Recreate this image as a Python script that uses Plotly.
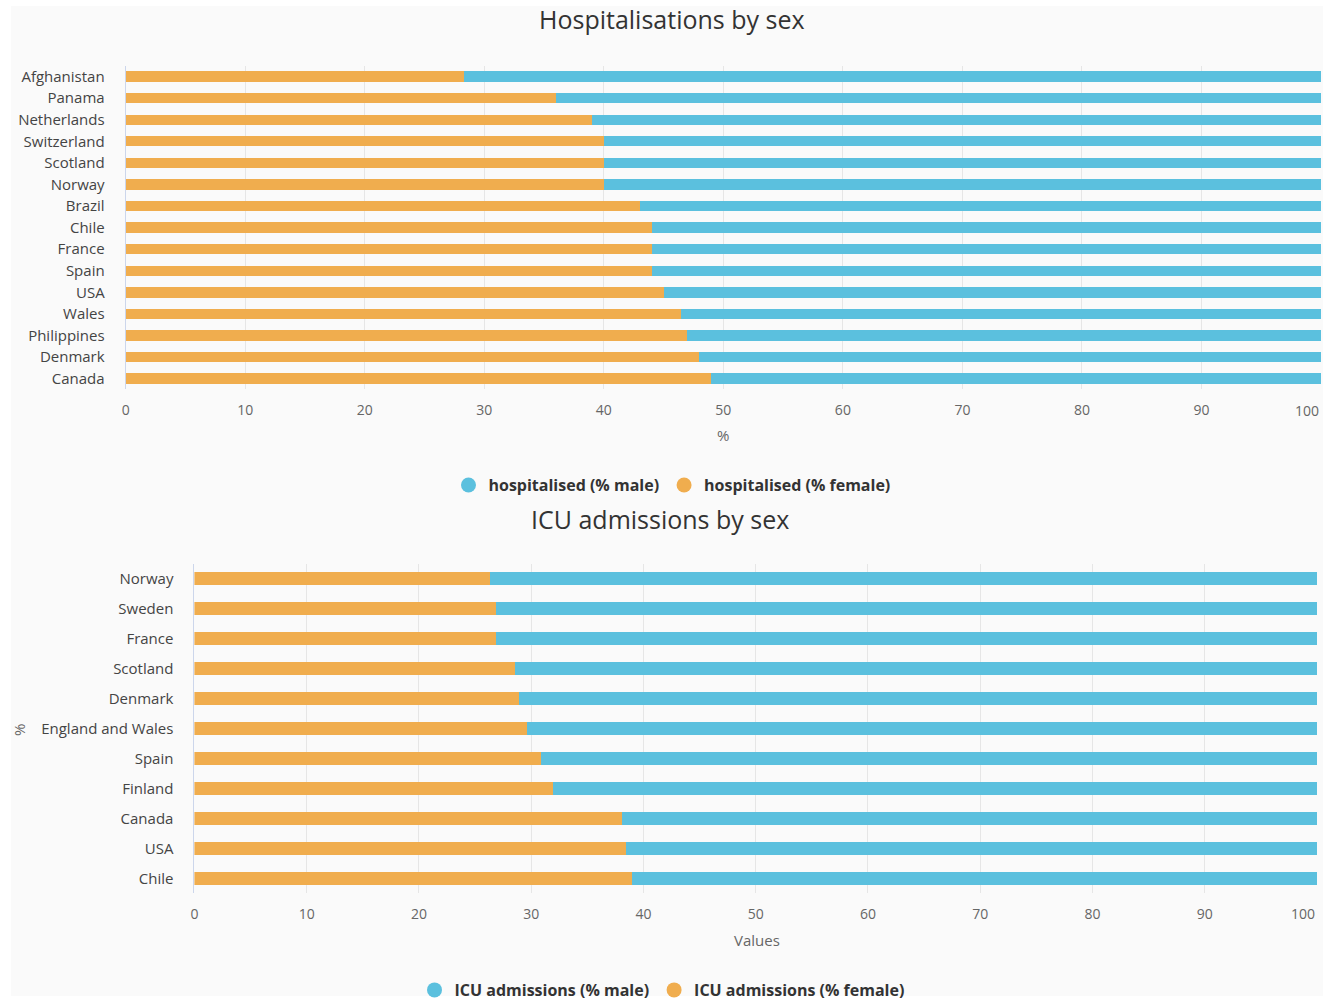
import plotly.graph_objects as go

# ---- Data ----
hosp_countries = ["Afghanistan", "Panama", "Netherlands", "Switzerland", "Scotland", "Norway",
                  "Brazil", "Chile", "France", "Spain", "USA", "Wales", "Philippines", "Denmark", "Canada"]
hosp_female = [28.3, 36.0, 39.0, 40.0, 40.0, 40.0, 43.0, 44.0, 44.0, 44.0, 45.0, 46.5, 47.0, 48.0, 49.0]
hosp_male = [71.7, 64.0, 61.0, 60.0, 60.0, 60.0, 57.0, 56.0, 56.0, 56.0, 55.0, 53.5, 53.0, 52.0, 51.0]

icu_countries = ["Norway", "Sweden", "France", "Scotland", "Denmark", "England and Wales",
                 "Spain", "Finland", "Canada", "USA", "Chile"]
icu_female = [26.3, 26.9, 26.9, 28.6, 28.9, 29.6, 30.9, 31.9, 38.1, 38.4, 39.0]
icu_male = [73.7, 73.1, 73.1, 71.4, 71.1, 70.4, 69.1, 68.1, 61.9, 61.6, 61.0]

x_ticks = [0, 10, 20, 30, 40, 50, 60, 70, 80, 90, 100]
x_tick_text = ["0", "10", "20", "30", "40", "50", "60", "70", "80", "90", ""]
last_tick = "100"

# ---- Style ----
W, H = 1332, 1007
BLUE = "#5bc0de"
ORANGE = "#f0ad4e"
BG = "#fafafa"
FONT = "Open Sans"
VK, VC = 0.993, 1.0  # small vertical correction


def px_x(p):
    return p / W


def px_y(p):
    return 1 - ((p - VC) / VK) / H


fig = go.Figure()

# Top chart bars
fig.add_trace(go.Bar(y=hosp_countries, x=hosp_female, orientation="h", marker_color=ORANGE,
                     marker_line_width=0, width=0.48, showlegend=False,
                     name="hospitalised (% female)", xaxis="x", yaxis="y"))
fig.add_trace(go.Bar(y=hosp_countries, x=hosp_male, orientation="h", marker_color=BLUE,
                     marker_line_width=0, width=0.48, showlegend=False,
                     name="hospitalised (% male)", xaxis="x", yaxis="y"))
# Bottom chart bars
fig.add_trace(go.Bar(y=icu_countries, x=icu_female, orientation="h", marker_color=ORANGE,
                     marker_line_width=0, width=0.45, showlegend=False,
                     name="ICU admissions (% female)", xaxis="x2", yaxis="y2"))
fig.add_trace(go.Bar(y=icu_countries, x=icu_male, orientation="h", marker_color=BLUE,
                     marker_line_width=0, width=0.45, showlegend=False,
                     name="ICU admissions (% male)", xaxis="x2", yaxis="y2"))

# Legend entries (circle markers)
for name, col, lg, xa, ya in [
    ("hospitalised (% male)", BLUE, "legend", "x", "y"),
    ("hospitalised (% female)", ORANGE, "legend", "x", "y"),
    ("ICU admissions (% male)", BLUE, "legend2", "x2", "y2"),
    ("ICU admissions (% female)", ORANGE, "legend2", "x2", "y2"),
]:
    fig.add_trace(go.Scatter(x=[None], y=[None], mode="markers", name=name,
                             marker=dict(color=col, size=15, symbol="circle"),
                             legend=lg, xaxis=xa, yaxis=ya, showlegend=True))

axis_common_x = dict(range=[0, 100], tickvals=x_ticks, ticktext=x_tick_text, showgrid=True,
                     gridcolor="#e6e6e6", gridwidth=1, zeroline=False, showline=False,
                     ticks="outside", ticklen=8, tickcolor="rgba(0,0,0,0)",
                     tickfont=dict(family=FONT, size=14, color="#666666"), fixedrange=True)
axis_common_y = dict(type="category", autorange="reversed", showgrid=False, zeroline=False,
                     showline=True, linecolor="#ccd6eb", linewidth=1, ticks="outside",
                     ticklen=17, tickcolor="rgba(0,0,0,0)",
                     tickfont=dict(family=FONT, size=15, color="#444444"), fixedrange=True)

legend_font = dict(family=FONT, size=16, color="#333333", weight="bold")

fig.update_layout(
    width=W, height=H,
    margin=dict(l=0, r=0, t=0, b=0),
    paper_bgcolor="#ffffff", plot_bgcolor=BG,
    barmode="stack",
    font=dict(family=FONT, color="#333333"),
    xaxis=dict(domain=[px_x(122), px_x(1321)], anchor="y", **axis_common_x),
    yaxis=dict(domain=[px_y(392), px_y(67)], anchor="x", **axis_common_y),
    xaxis2=dict(domain=[px_x(191), px_x(1317)], anchor="y2", **axis_common_x),
    yaxis2=dict(domain=[px_y(898), px_y(567)], anchor="x2", **axis_common_y),
    legend=dict(orientation="h", traceorder="normal", x=px_x(670), xanchor="center",
                y=px_y(488), yanchor="middle", font=legend_font,
                bgcolor="rgba(0,0,0,0)", itemclick=False, itemdoubleclick=False),
    legend2=dict(orientation="h", traceorder="normal", x=px_x(660), xanchor="center",
                 y=px_y(995), yanchor="middle", font=legend_font,
                 bgcolor="rgba(0,0,0,0)", itemclick=False, itemdoubleclick=False),
    shapes=[
        dict(type="rect", xref="paper", yref="paper", x0=px_x(7), x1=px_x(1323),
             y0=0, y1=px_y(7), fillcolor=BG, line_width=0, layer="below"),
    ],
    annotations=[
        dict(text="Hospitalisations by sex", x=px_x(670), y=px_y(20), xref="paper", yref="paper",
             showarrow=False, font=dict(family=FONT, size=25, color="#333333"),
             xanchor="center", yanchor="middle"),
        dict(text="ICU admissions by sex", x=px_x(658), y=px_y(522), xref="paper", yref="paper",
             showarrow=False, font=dict(family=FONT, size=25, color="#333333"),
             xanchor="center", yanchor="middle"),
        dict(text="%", x=px_x(721), y=px_y(438), xref="paper", yref="paper",
             showarrow=False, font=dict(family=FONT, size=15, color="#666666"),
             xanchor="center", yanchor="middle"),
        dict(text="Values", x=px_x(755), y=px_y(945), xref="paper", yref="paper",
             showarrow=False, font=dict(family=FONT, size=15, color="#666666"),
             xanchor="center", yanchor="middle"),
        dict(text="%", x=px_x(15), y=px_y(734), xref="paper", yref="paper", textangle=-90,
             showarrow=False, font=dict(family=FONT, size=15, color="#666666"),
             xanchor="center", yanchor="middle"),
        dict(text=last_tick, x=100, xref="x", y=px_y(413), yref="paper", showarrow=False,
             font=dict(family=FONT, size=14, color="#666666"), xanchor="right", yanchor="middle"),
        dict(text=last_tick, x=100, xref="x2", y=px_y(918), yref="paper", showarrow=False,
             font=dict(family=FONT, size=14, color="#666666"), xanchor="right", yanchor="middle"),
    ],
)

post = ("document.body.style.margin='0';"
        "var d=document.getElementById('{plot_id}');"
        "d.style.position='fixed';d.style.left='0px';d.style.top='0px';")
fig.write_html("out.html", post_script=post, config={"displayModeBar": False})
